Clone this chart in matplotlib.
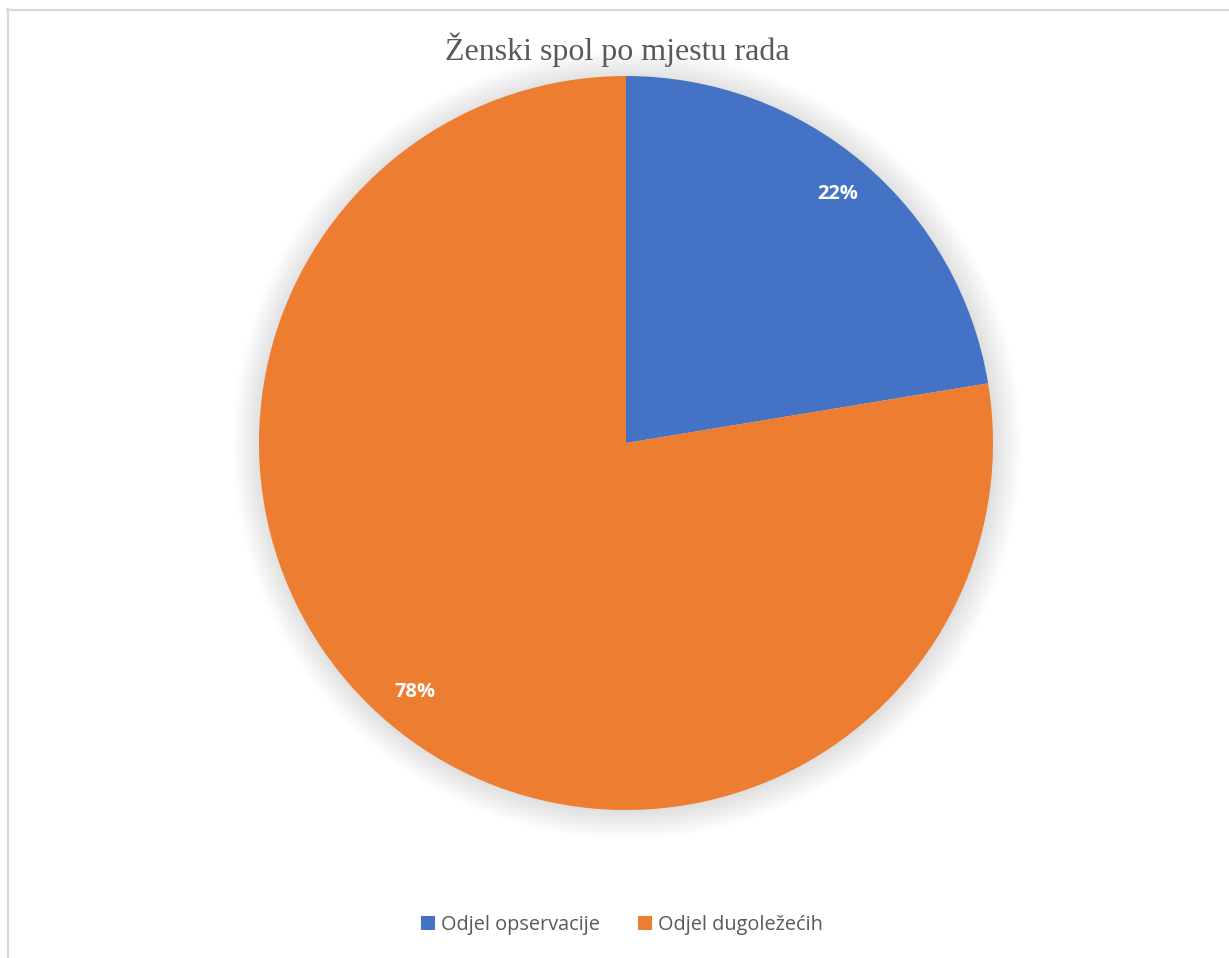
import matplotlib
matplotlib.use("Agg")
import matplotlib.pyplot as plt
from matplotlib.patches import Circle, Patch
from matplotlib.lines import Line2D

categories = ["Odjel opservacije", "Odjel dugoležećih"]
shares = [22.4, 77.6]
colors = ["#4472C4", "#ED7D31"]
title = "Ženski spol po mjestu rada"

W, H = 1229, 958
fig = plt.figure(figsize=(W / 100, H / 100), dpi=100)

# pie centre (626, 443) px, radius 367 px
cx, cy, r = 626, 443, 367
ax = fig.add_axes([(cx - r) / W, 1 - (cy + r) / H, 2 * r / W, 2 * r / H])

# soft shadow behind the pie
for k in range(16):
    ax.add_patch(Circle((0.003, -0.004), 1 + 0.005 * k, color="#000000",
                        alpha=0.008, lw=0, zorder=0, clip_on=False))

wedges, texts, autotexts = ax.pie(
    shares, colors=colors, startangle=90, counterclock=False,
    autopct="%.0f%%", pctdistance=0.89, radius=1,
    wedgeprops=dict(linewidth=0),
    textprops=dict(color="white", fontsize=14.5, fontweight="bold",
                   family="Open Sans"))
for w in wedges:
    w.set_zorder(2)
for t in autotexts:
    t.set_zorder(3)
ax.set_xlim(-1, 1)
ax.set_ylim(-1, 1)
ax.set_aspect("equal")
ax.axis("off")

fig.text(617 / W, 1 - 50 / H, title, ha="center", va="center",
         fontsize=23, color="#595959", family="Liberation Serif")

handles = [Patch(facecolor=c, edgecolor="none") for c in colors]
fig.legend(handles, categories, loc="center", bbox_to_anchor=(622 / W, 1 - 925 / H),
           ncol=2, frameon=False, labelcolor="#595959",
           prop=dict(family="Open Sans", size=14.3),
           handlelength=0.7, handleheight=0.7, handletextpad=0.3,
           columnspacing=1.9)

# chart border (only left and top edges are in view)
fig.add_artist(Line2D([7.5 / W, 7.5 / W], [0, 1 - 9 / H], color="#d9d9d9", lw=1.5))
fig.add_artist(Line2D([7 / W, 1], [1 - 9.5 / H, 1 - 9.5 / H], color="#d9d9d9", lw=1.5))

fig.savefig("out.png", dpi=100, facecolor="white")
